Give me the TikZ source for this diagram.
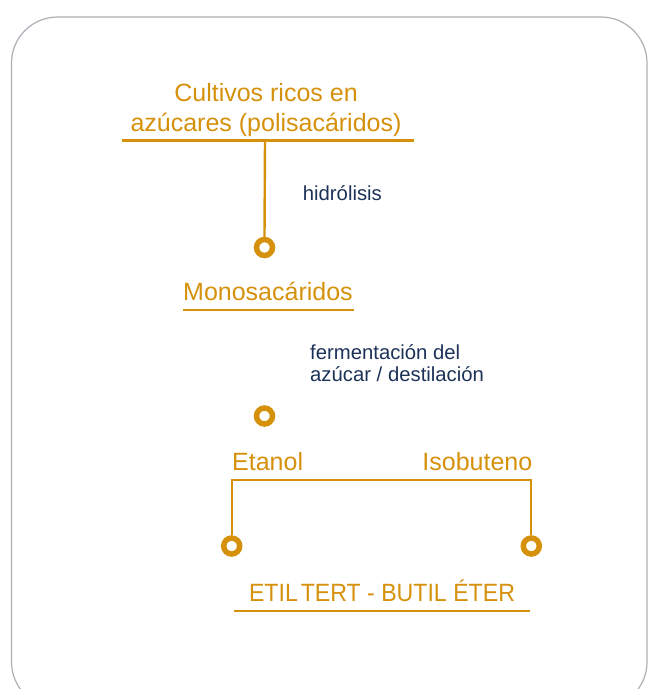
\documentclass[tikz,border=0pt]{standalone}
\usepackage{fontspec}
\usepackage{graphicx}
\setmainfont{Liberation Sans}
\definecolor{ocre}{RGB}{214,145,12}
\definecolor{navy}{RGB}{28,50,88}
\definecolor{frame}{RGB}{172,176,182}
\tikzset{
  big/.style={font=\fontsize{25}{30}\selectfont, text=ocre, inner sep=0pt},
  small/.style={font=\fontsize{20.3}{23}\selectfont, text=navy, inner sep=0pt},
  uline/.style={draw=ocre, line width=2.6pt},
  thin/.style={draw=ocre, line width=1.7pt},
  ring/.style={circle, draw=ocre, fill=white, line width=5.5pt, minimum size=16pt, inner sep=0pt},
}
\begin{document}
\begin{tikzpicture}[x=1pt,y=-1pt]
\useasboundingbox (0,0) rectangle (648,689);
\draw[frame, line width=1.2pt, rounded corners=46pt] (11.5,17) rectangle (647,708);

% title
\node[big, anchor=base] (t1) at (266,101.7) {Cultivos ricos en};
\node[big, anchor=base] (t2) at (266,131.7) {azúcares (polisacáridos)};
\coordinate (u1a) at (122,140.7);
\coordinate (u1b) at (414,140.7);
\draw[uline] (u1a) -- (u1b);
\coordinate (u1m) at (265,140.7);
\node[ring] (c1) at (264.5,247.5) {};
\draw[ocre, line width=2.4pt] (u1m) -- (c1.north);
\node[small, anchor=base west] (h) at (302.7,200) {hidrólisis};

% monosacaridos
\node[big, anchor=base west] (m) at (183,300) {Monosacáridos};
\coordinate (u2a) at (182.5,310);
\coordinate (u2b) at (353.5,310);
\draw[uline] (u2a) -- (u2b);
\node[small, anchor=base west] (f1) at (310,359.3) {fermentación del};
\node[small, anchor=base west] (f2) at (310,381.7) {azúcar / destilación};
\node[ring] (c2) at (264.5,416) {};

% etanol / isobuteno
\node[big, anchor=base west] (e) at (232,470.7) {Etanol};
\node[big, anchor=base east] (i) at (532.5,470.7) {Isobuteno};
\node[ring] (c3) at (231.7,546) {};
\node[ring] (c4) at (531.3,546) {};
\coordinate (bl) at (231.7,480);
\coordinate (br) at (531.3,480);
\draw[thin] (c3.north) -- (bl) -- (br) -- (c4.north);
\coordinate (eua) at (252,480);
\coordinate (eub) at (303,480);
\draw[ocre, line width=2.8pt] (eua) -- (eub);

% ETBE
\node[big, anchor=base] (etbe) at (382,601.7) {\scalebox{0.925}[1]{ETIL\hspace{-1pt}\,TERT - BUTIL ÉTER}};
\coordinate (u3a) at (234,611);
\coordinate (u3b) at (530,611);
\draw[uline] (u3a) -- (u3b);
\end{tikzpicture}
\end{document}
